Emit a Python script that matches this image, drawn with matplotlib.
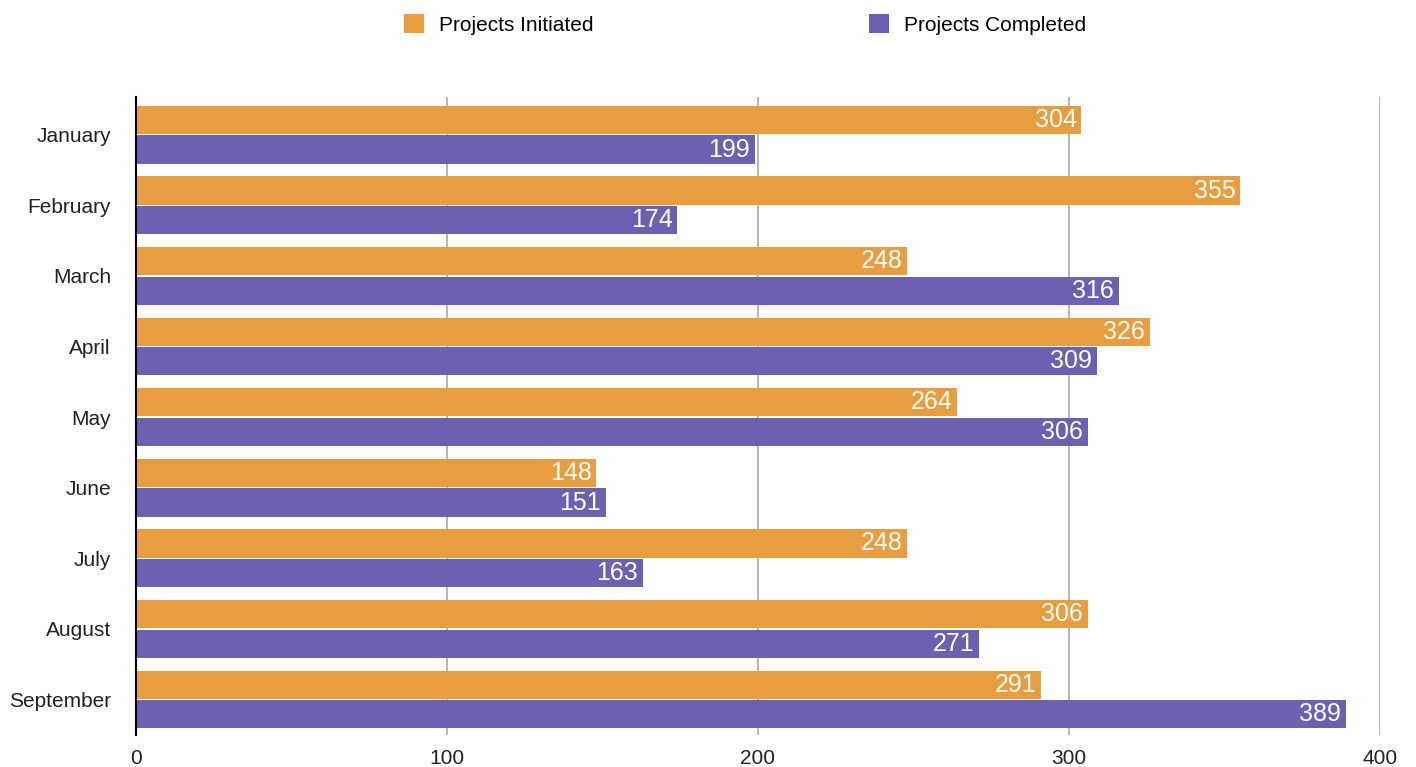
import matplotlib.pyplot as plt
import numpy as np

plt.rcParams['font.family'] = ['Liberation Sans', 'DejaVu Sans']

months = ['January', 'February', 'March', 'April', 'May', 'June', 'July', 'August', 'September']
initiated = [304, 355, 248, 326, 264, 148, 248, 306, 291]
completed = [199, 174, 316, 309, 306, 151, 163, 271, 389]

c_init = '#E89D3E'
c_comp = '#6C60B0'

fig = plt.figure(figsize=(14.16, 7.67), dpi=100)
ax = fig.add_axes([0.096, 0.042, 0.8786, 0.832])

y = np.arange(len(months))
h = 0.4
gap = 0.02
b1 = ax.barh(y - h / 2 - gap / 2, initiated, height=h, color=c_init, label='Projects Initiated', zorder=3)
b2 = ax.barh(y + h / 2 + gap / 2, completed, height=h, color=c_comp, label='Projects Completed', zorder=3)

for bars, vals in ((b1, initiated), (b2, completed)):
    for bar, v in zip(bars, vals):
        ax.text(v - 1.5, bar.get_y() + bar.get_height() / 2, str(v), color='white',
                ha='right', va='center', fontsize=18, zorder=4)

ax.set_xlim(0, 400)
ax.set_ylim(8.5, -0.54)
ax.set_xticks([0, 100, 200, 300, 400])
ax.set_yticks(y)
ax.set_yticklabels(months)
ax.tick_params(axis='both', length=0, labelsize=15, colors='#222222')
ax.tick_params(axis='y', pad=18)
ax.tick_params(axis='x', pad=10)
ax.grid(axis='x', color='#aaaaaa', linewidth=1.2, zorder=0)
for s in ['top', 'right', 'bottom']:
    ax.spines[s].set_visible(False)
ax.spines['left'].set_color('black')
ax.spines['left'].set_linewidth(1.5)
ax.spines['left'].set_zorder(5)

fig.legend(handles=[b1, b2], loc='upper center', bbox_to_anchor=(0.526, 1.006), ncol=2,
           frameon=False, fontsize=15, handlelength=1.0, handleheight=1.0,
           columnspacing=13.2, handletextpad=0.7)

fig.savefig('out.png', dpi=100)
